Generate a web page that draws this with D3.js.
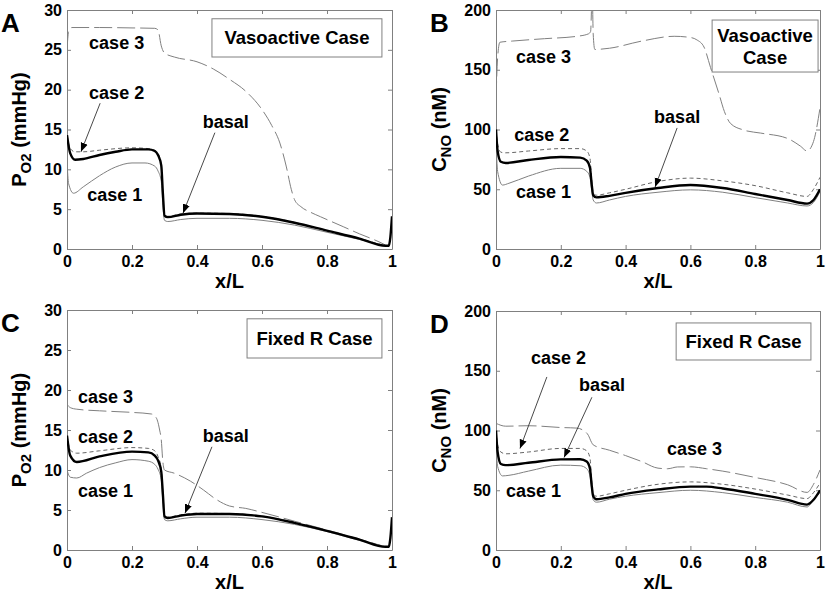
<!DOCTYPE html>
<html>
<head>
<meta charset="utf-8">
<script src="https://d3js.org/d3.v7.min.js"></script>
<style>
  body { margin: 0; background: #fff; }
  text { font-family: "Liberation Sans", Arial, sans-serif; font-weight: bold; fill: #000; }
</style>
</head>
<body>
<svg id="chart" width="827" height="602"></svg>
<script>
// x/L ticks shared by all panels
const xTicks = [0, 0.2, 0.4, 0.6, 0.8, 1];
const po2Ticks = [0, 5, 10, 15, 20, 25, 30];
const noTicks = [0, 50, 100, 150, 200];

// Panel A: PO2, vasoactive
const aBasal = [[0,14.3],[0.01,12.0],[0.025,11.2],[0.05,11.3],[0.1,11.8],[0.15,12.2],[0.2,12.5],[0.25,12.5],[0.27,12.3],[0.28,11.8],[0.29,10.5],[0.295,7],[0.3,4.2],[0.31,4.0],[0.35,4.3],[0.4,4.45],[0.5,4.4],[0.6,4.05],[0.7,3.3],[0.8,2.3],[0.9,1.3],[0.98,0.4],[0.99,0.4],[0.995,1.5],[1,4.1]];
const aCase1 = [[0,11.0],[0.005,8.2],[0.02,7.0],[0.05,7.8],[0.1,9.2],[0.15,10.3],[0.2,10.8],[0.24,10.8],[0.27,10.4],[0.28,9.8],[0.29,8.5],[0.295,5.5],[0.3,3.6],[0.31,3.45],[0.35,3.7],[0.4,3.85],[0.5,3.85],[0.6,3.6],[0.7,3.0],[0.8,2.1],[0.9,1.2],[0.98,0.4]];
const aCase2 = [[0,14.3],[0.01,12.6],[0.025,12.2],[0.05,12.2],[0.1,12.4],[0.2,12.7],[0.25,12.6],[0.27,12.4],[0.28,12.0],[0.29,10.7],[0.295,7],[0.3,4.3],[0.31,4.1],[0.35,4.4],[0.4,4.5],[0.5,4.45],[0.6,4.1],[0.7,3.35],[0.8,2.3],[0.9,1.3],[0.98,0.4]];
const aCase3 = [[0,25],[0.005,27.3],[0.015,27.8],[0.1,27.8],[0.2,27.75],[0.27,27.7],[0.28,27.5],[0.29,25.5],[0.3,24.6],[0.33,24.1],[0.4,23.5],[0.45,22.6],[0.5,21.3],[0.55,19.8],[0.6,17.5],[0.63,15.5],[0.655,13.3],[0.675,10.3],[0.69,7.5],[0.7,6.2],[0.72,5.3],[0.75,4.6],[0.78,4.05],[0.85,2.8],[0.9,1.9],[0.96,0.9],[0.98,0.5]];

// Panel B: CNO, vasoactive
const bBasal = [[0,100],[0.005,82],[0.015,73],[0.03,72],[0.1,74.5],[0.2,77],[0.26,76.5],[0.28,74],[0.29,68],[0.295,55],[0.3,45],[0.31,43.2],[0.35,44.5],[0.4,47],[0.5,51],[0.6,53.5],[0.7,51],[0.8,46],[0.9,41],[0.96,38],[0.98,41],[1,50]];
const bCase1 = [[0,92],[0.005,65],[0.02,53.5],[0.04,55],[0.1,61],[0.2,67.5],[0.26,67.5],[0.28,65],[0.29,60],[0.295,50],[0.3,41],[0.31,38.5],[0.35,41],[0.4,44],[0.5,47.5],[0.6,49.5],[0.7,47.5],[0.8,43],[0.9,38.5],[0.96,36],[0.98,39],[1,48]];
const bCase2 = [[0,100],[0.005,88],[0.015,81],[0.03,80.5],[0.1,82],[0.2,84],[0.26,84],[0.28,82],[0.29,76],[0.295,60],[0.3,47],[0.31,45],[0.35,47],[0.4,50],[0.5,56.5],[0.6,59.3],[0.7,57],[0.8,53],[0.9,47],[0.96,44],[0.98,50],[1,60]];
const bCase3 = [[0,125],[0.005,160],[0.012,173],[0.05,174],[0.15,176],[0.25,178],[0.285,180],[0.292,182],[0.297,215],[0.3,180],[0.305,167],[0.35,168],[0.45,174],[0.55,178],[0.6,177],[0.62,175],[0.642,169],[0.662,152],[0.688,130],[0.705,115],[0.724,105],[0.765,99.5],[0.817,97],[0.9,92.5],[0.94,86],[0.96,82],[0.98,90],[1,118]];

// Panel C: PO2, fixed R
const cBasal = [[0,14.3],[0.01,11.8],[0.03,11.0],[0.1,11.7],[0.2,12.3],[0.25,12.2],[0.27,11.8],[0.28,11.2],[0.29,9.8],[0.295,7],[0.3,4.2],[0.31,4.0],[0.35,4.3],[0.4,4.5],[0.5,4.5],[0.6,4.2],[0.7,3.4],[0.8,2.4],[0.9,1.3],[0.98,0.4],[0.99,0.4],[0.995,1.5],[1,4.1]];
const cCase1 = [[0,10],[0.01,9.1],[0.03,9.0],[0.06,9.6],[0.1,10.3],[0.15,10.9],[0.2,11.3],[0.25,11.1],[0.27,10.7],[0.28,10.1],[0.29,8.8],[0.295,6],[0.3,3.8],[0.31,3.65],[0.35,3.9],[0.4,4.1],[0.5,4.1],[0.6,3.8],[0.7,3.2],[0.8,2.3],[0.9,1.2],[0.98,0.4]];
const cCase2 = [[0,14.3],[0.01,12.5],[0.03,12.1],[0.1,12.4],[0.2,12.8],[0.25,12.7],[0.27,12.4],[0.28,11.7],[0.29,10.2],[0.295,7.2],[0.3,4.4],[0.31,4.1],[0.35,4.4],[0.4,4.6],[0.5,4.55],[0.6,4.25],[0.7,3.45],[0.8,2.4],[0.9,1.3],[0.98,0.4]];
const cCase3 = [[0,18.2],[0.01,17.8],[0.03,17.6],[0.1,17.4],[0.2,17.2],[0.26,17.0],[0.275,16.5],[0.285,15],[0.29,13.8],[0.295,11],[0.3,10.0],[0.33,9.6],[0.38,8.6],[0.42,7.5],[0.46,6.3],[0.5,5.5],[0.55,5.2],[0.6,4.7],[0.7,3.6],[0.8,2.5],[0.9,1.35],[0.98,0.4]];

// Panel D: CNO, fixed R
const dBasal = [[0,100],[0.005,82],[0.015,72],[0.03,71],[0.1,73],[0.2,75.8],[0.26,76],[0.28,74],[0.29,68],[0.295,55],[0.3,45],[0.31,42.5],[0.35,44],[0.4,47],[0.5,50.7],[0.6,53],[0.65,53],[0.7,51.5],[0.8,47],[0.9,42],[0.96,38],[0.98,42],[1,50]];
const dCase1 = [[0,90],[0.005,70],[0.02,62],[0.04,62.5],[0.1,66],[0.2,71],[0.26,70.5],[0.28,68],[0.29,62],[0.295,52],[0.3,42],[0.31,40],[0.35,42.5],[0.4,45],[0.5,48],[0.6,50],[0.7,48],[0.8,44],[0.9,40],[0.96,36],[0.98,42],[1,48]];
const dCase2 = [[0,100],[0.005,88],[0.015,82],[0.03,80.5],[0.1,82],[0.2,85],[0.26,85],[0.28,83],[0.29,77],[0.295,60],[0.3,47],[0.31,45],[0.35,47],[0.4,50],[0.5,55],[0.6,57],[0.7,55],[0.8,51],[0.9,46],[0.96,43],[0.98,48],[1,56]];
const dCase3 = [[0,106],[0.03,103.6],[0.1,104],[0.2,102.5],[0.25,102],[0.27,100],[0.285,96],[0.295,90],[0.3,88],[0.35,83.5],[0.4,79],[0.45,74],[0.5,68.5],[0.53,68],[0.56,69.5],[0.6,69.6],[0.65,68],[0.7,66],[0.8,60.7],[0.9,54.6],[0.96,48.2],[0.98,55],[1,67]];

const svg = d3.select('#chart');

svg.append('defs').append('marker')
  .attr('id', 'arrow')
  .attr('viewBox', '0 0 10 10')
  .attr('refX', 10).attr('refY', 5)
  .attr('markerWidth', 9).attr('markerHeight', 9)
  .attr('markerUnits', 'userSpaceOnUse')
  .attr('orient', 'auto')
  .append('path')
  .attr('d', 'M0,1 L10,5 L0,9 Z')
  .attr('fill', '#000');

const styles = {
  case1: { stroke: '#808080', width: 1, dash: null },
  case2: { stroke: '#666', width: 1, dash: '4,3' },
  case3: { stroke: '#808080', width: 1, dash: '18,5' },
  basal: { stroke: '#000', width: 2.4, dash: null }
};

function drawPanel(p) {
  const x = d3.scaleLinear().domain([0, 1]).range([p.left, p.right]);
  const y = d3.scaleLinear().domain([0, p.ymax]).range([p.bottom, p.top]);
  const g = svg.append('g');
  const clipId = 'clip' + p.letter;

  svg.select('defs').append('clipPath').attr('id', clipId)
    .append('rect')
    .attr('x', p.left).attr('y', p.top)
    .attr('width', p.right - p.left).attr('height', p.bottom - p.top);

  // axes with inward ticks on all four sides
  const tickFmt = d => d3.format('~g')(d);
  g.append('g').attr('transform', `translate(0,${p.bottom})`)
    .call(d3.axisBottom(x).tickValues(xTicks).tickSizeInner(-4).tickSizeOuter(0).tickPadding(7).tickFormat(tickFmt));
  g.append('g').attr('transform', `translate(0,${p.top})`)
    .call(d3.axisTop(x).tickValues(xTicks).tickSizeInner(-4).tickSizeOuter(0).tickFormat(''));
  g.append('g').attr('transform', `translate(${p.left},0)`)
    .call(d3.axisLeft(y).tickValues(p.yTicks).tickSizeInner(-4).tickSizeOuter(0).tickPadding(5));
  g.append('g').attr('transform', `translate(${p.right},0)`)
    .call(d3.axisRight(y).tickValues(p.yTicks).tickSizeInner(-4).tickSizeOuter(0).tickFormat(''));
  g.selectAll('.domain').attr('stroke', '#808080');
  g.selectAll('.tick line').attr('stroke', '#808080');
  g.selectAll('.tick text').style('font-size', '16px').style('font-weight', 'bold')
    .style('font-family', '"Liberation Sans", Arial, sans-serif').attr('fill', '#000');

  const line = d3.line().x(d => x(d[0])).y(d => y(d[1])).curve(d3.curveMonotoneX);
  const lines = g.append('g').attr('clip-path', `url(#${clipId})`);
  ['case3', 'case1', 'case2', 'basal'].forEach(k => {
    const s = styles[k];
    lines.append('path')
      .datum(p.series[k])
      .attr('fill', 'none')
      .attr('stroke', s.stroke)
      .attr('stroke-width', s.width)
      .attr('stroke-dasharray', s.dash)
      .attr('stroke-linejoin', 'round')
      .attr('d', line);
  });

  // panel letter
  g.append('text').attr('x', p.left - 66).attr('y', p.top + 22)
    .style('font-size', '26px').text(p.letter);

  // axis titles
  g.append('text').attr('x', (p.left + p.right) / 2).attr('y', p.bottom + 39)
    .attr('text-anchor', 'middle').style('font-size', '20px').text('x/L');
  const yt = g.append('text')
    .attr('transform', `translate(${p.left - p.ylabelOff},${(p.top + p.bottom) / 2}) rotate(-90)`)
    .attr('text-anchor', 'middle').style('font-size', '20px');
  yt.append('tspan').text(p.ylabel[0]);
  yt.append('tspan').attr('dy', 5).style('font-size', '15px').text(p.ylabel[1]);
  yt.append('tspan').attr('dy', -5).text(' ' + p.ylabel[2]);

  // legend box
  const b = p.box;
  g.append('rect')
    .attr('x', x(b.x0)).attr('y', y(b.y1))
    .attr('width', x(b.x1) - x(b.x0)).attr('height', y(b.y0) - y(b.y1))
    .attr('fill', '#fff').attr('stroke', '#808080');
  const bt = g.append('text').attr('text-anchor', 'middle').style('font-size', '18.5px');
  const cx = (x(b.x0) + x(b.x1)) / 2;
  const cy = (y(b.y0) + y(b.y1)) / 2;
  b.lines.forEach((t, i) => {
    bt.append('tspan').attr('x', cx)
      .attr('y', cy + 6.5 + (i - (b.lines.length - 1) / 2) * 22).text(t);
  });

  // annotations
  p.labels.forEach(l => {
    g.append('text').attr('x', x(l[0])).attr('y', y(l[1]))
      .style('font-size', '18px').text(l[2]);
  });
  p.arrows.forEach(a => {
    g.append('line')
      .attr('x1', x(a[0])).attr('y1', y(a[1]))
      .attr('x2', x(a[2])).attr('y2', y(a[3]))
      .attr('stroke', '#333').attr('stroke-width', 0.9)
      .attr('marker-end', 'url(#arrow)');
  });
}

drawPanel({
  letter: 'A', left: 67, right: 392, top: 10, bottom: 249, ymax: 30, yTicks: po2Ticks,
  ylabel: ['P', 'O2', '(mmHg)'], ylabelOff: 41,
  series: { basal: aBasal, case1: aCase1, case2: aCase2, case3: aCase3 },
  box: { x0: 0.446, x1: 0.969, y0: 24.1, y1: 28.9, lines: ['Vasoactive Case'] },
  labels: [[0.068, 25.1, 'case 3'], [0.068, 18.8, 'case 2'], [0.418, 15.2, 'basal'], [0.062, 6.0, 'case 1']],
  arrows: [[0.102, 18.3, 0.043, 12.2], [0.455, 14.6, 0.357, 4.5]]
});

drawPanel({
  letter: 'B', left: 496, right: 820, top: 10, bottom: 249, ymax: 200, yTicks: noTicks,
  ylabel: ['C', 'NO', '(nM)'], ylabelOff: 50,
  series: { basal: bBasal, case1: bCase1, case2: bCase2, case3: bCase3 },
  box: { x0: 0.667, x1: 0.994, y0: 148.1, y1: 191.6, lines: ['Vasoactive', 'Case'] },
  labels: [[0.062, 156, 'case 3'], [0.056, 90.4, 'case 2'], [0.488, 105.4, 'basal'], [0.062, 42.7, 'case 1']],
  arrows: [[0.559, 101.3, 0.491, 51.9]]
});

drawPanel({
  letter: 'C', left: 67, right: 392, top: 310, bottom: 550, ymax: 30, yTicks: po2Ticks,
  ylabel: ['P', 'O2', '(mmHg)'], ylabelOff: 41,
  series: { basal: cBasal, case1: cCase1, case2: cCase2, case3: cCase3 },
  box: { x0: 0.554, x1: 0.969, y0: 24.0, y1: 28.9, lines: ['Fixed R Case'] },
  labels: [[0.034, 18.4, 'case 3'], [0.034, 13.4, 'case 2'], [0.418, 13.5, 'basal'], [0.034, 6.6, 'case 1']],
  arrows: [[0.446, 12.9, 0.363, 4.6]]
});

drawPanel({
  letter: 'D', left: 496, right: 820, top: 311, bottom: 550, ymax: 200, yTicks: noTicks,
  ylabel: ['C', 'NO', '(nM)'], ylabelOff: 50,
  series: { basal: dBasal, case1: dCase1, case2: dCase2, case3: dCase3 },
  box: { x0: 0.556, x1: 0.972, y0: 159, y1: 190, lines: ['Fixed R Case'] },
  labels: [[0.108, 155.6, 'case 2'], [0.256, 133, 'basal'], [0.528, 79.5, 'case 3'], [0.031, 44.4, 'case 1']],
  arrows: [[0.157, 144.8, 0.074, 84.9], [0.296, 127.8, 0.21, 77.4]]
});
</script>
</body>
</html>
